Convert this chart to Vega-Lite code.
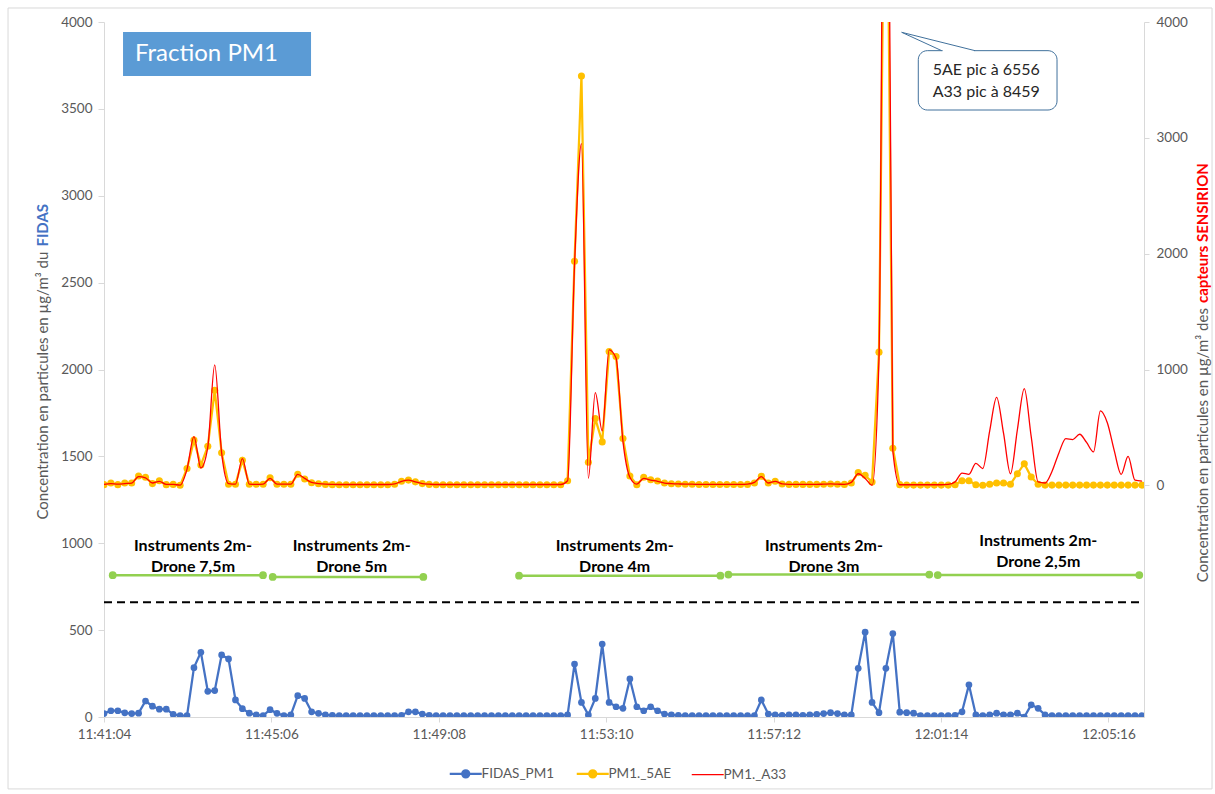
{
  "$schema": "https://vega.github.io/schema/vega-lite/v6.json",
  "width": 1040,
  "height": 695,
  "autosize": {"type": "none"},
  "padding": {"left": 104, "top": 22, "right": 71, "bottom": 77},
  "background": "white",
  "config": {
    "view": {"stroke": null},
    "font": "Lato",
    "axis": {"grid": false, "domainColor": "#d9d9d9", "tickColor": "#d9d9d9", "labelColor": "#595959", "labelFont": "Lato", "labelFontSize": 13.5},
    "legend": {"labelFont": "Lato", "labelFontSize": 13.5, "labelColor": "#595959"}
  },
  "datasets": {
    "ts": [
      {"s":0,"fidas":20,"ae5":6,"a33":8},{"s":10,"fidas":36,"ae5":20,"a33":15},{"s":20,"fidas":36,"ae5":6,"a33":10},{"s":30,"fidas":24,"ae5":20,"a33":15},{"s":40,"fidas":20,"ae5":20,"a33":20},
      {"s":50,"fidas":22,"ae5":80,"a33":75},{"s":60,"fidas":92,"ae5":70,"a33":65},{"s":70,"fidas":62,"ae5":15,"a33":20},{"s":80,"fidas":45,"ae5":40,"a33":35},{"s":90,"fidas":45,"ae5":6,"a33":8},
      {"s":100,"fidas":15,"ae5":8,"a33":8},{"s":110,"fidas":8,"ae5":0,"a33":2},{"s":120,"fidas":8,"ae5":145,"a33":140},{"s":130,"fidas":284,"ae5":390,"a33":420},{"s":140,"fidas":372,"ae5":175,"a33":150},
      {"s":150,"fidas":148,"ae5":337,"a33":330},{"s":160,"fidas":152,"ae5":820,"a33":1040},{"s":170,"fidas":357,"ae5":282,"a33":280},{"s":180,"fidas":334,"ae5":10,"a33":15},{"s":190,"fidas":98,"ae5":10,"a33":10},
      {"s":200,"fidas":48,"ae5":216,"a33":230},{"s":210,"fidas":22,"ae5":9,"a33":10},{"s":220,"fidas":12,"ae5":9,"a33":8},{"s":230,"fidas":8,"ae5":9,"a33":10},{"s":240,"fidas":42,"ae5":66,"a33":60},
      {"s":250,"fidas":21,"ae5":9,"a33":10},{"s":260,"fidas":8,"ae5":9,"a33":10},{"s":270,"fidas":12,"ae5":9,"a33":10},{"s":280,"fidas":123,"ae5":95,"a33":95},{"s":290,"fidas":107,"ae5":55,"a33":60},
      {"s":300,"fidas":30,"ae5":23,"a33":25},{"s":310,"fidas":21,"ae5":14,"a33":15},{"s":320,"fidas":12,"ae5":8,"a33":10},{"s":330,"fidas":10,"ae5":6,"a33":8},{"s":340,"fidas":8,"ae5":5,"a33":7},
      {"s":350,"fidas":8,"ae5":5,"a33":7},{"s":360,"fidas":8,"ae5":5,"a33":7},{"s":370,"fidas":8,"ae5":5,"a33":7},{"s":380,"fidas":8,"ae5":5,"a33":7},{"s":390,"fidas":8,"ae5":5,"a33":7},
      {"s":400,"fidas":8,"ae5":5,"a33":7},{"s":410,"fidas":8,"ae5":5,"a33":7},{"s":420,"fidas":8,"ae5":10,"a33":12},{"s":430,"fidas":10,"ae5":35,"a33":35},{"s":440,"fidas":30,"ae5":45,"a33":45},
      {"s":450,"fidas":30,"ae5":30,"a33":30},{"s":460,"fidas":17,"ae5":15,"a33":15},{"s":470,"fidas":10,"ae5":8,"a33":10},{"s":480,"fidas":8,"ae5":5,"a33":7},{"s":490,"fidas":8,"ae5":5,"a33":7},
      {"s":500,"fidas":8,"ae5":5,"a33":7},{"s":510,"fidas":8,"ae5":5,"a33":7},{"s":520,"fidas":8,"ae5":5,"a33":7},{"s":530,"fidas":8,"ae5":5,"a33":7},{"s":540,"fidas":8,"ae5":5,"a33":7},
      {"s":550,"fidas":8,"ae5":5,"a33":7},{"s":560,"fidas":8,"ae5":5,"a33":7},{"s":570,"fidas":8,"ae5":5,"a33":7},{"s":580,"fidas":8,"ae5":5,"a33":7},{"s":590,"fidas":8,"ae5":5,"a33":7},
      {"s":600,"fidas":8,"ae5":5,"a33":7},{"s":610,"fidas":8,"ae5":5,"a33":7},{"s":620,"fidas":8,"ae5":5,"a33":7},{"s":630,"fidas":8,"ae5":5,"a33":7},{"s":640,"fidas":8,"ae5":5,"a33":7},
      {"s":650,"fidas":8,"ae5":5,"a33":7},{"s":660,"fidas":8,"ae5":5,"a33":7},{"s":670,"fidas":12,"ae5":40,"a33":40},{"s":680,"fidas":305,"ae5":1935,"a33":1900},{"s":690,"fidas":84,"ae5":3533,"a33":2950},
      {"s":700,"fidas":12,"ae5":200,"a33":60},{"s":710,"fidas":107,"ae5":576,"a33":800},{"s":720,"fidas":420,"ae5":375,"a33":470},{"s":730,"fidas":84,"ae5":1155,"a33":1170},{"s":740,"fidas":59,"ae5":1112,"a33":1100},
      {"s":750,"fidas":50,"ae5":405,"a33":380},{"s":760,"fidas":219,"ae5":80,"a33":70},{"s":770,"fidas":59,"ae5":5,"a33":10},{"s":780,"fidas":36,"ae5":70,"a33":60},{"s":790,"fidas":59,"ae5":48,"a33":45},
      {"s":800,"fidas":36,"ae5":37,"a33":35},{"s":810,"fidas":17,"ae5":20,"a33":20},{"s":820,"fidas":12,"ae5":14,"a33":15},{"s":830,"fidas":10,"ae5":12,"a33":12},{"s":840,"fidas":8,"ae5":10,"a33":10},
      {"s":850,"fidas":8,"ae5":10,"a33":10},{"s":860,"fidas":8,"ae5":7,"a33":8},{"s":870,"fidas":8,"ae5":7,"a33":8},{"s":880,"fidas":8,"ae5":7,"a33":8},{"s":890,"fidas":8,"ae5":7,"a33":8},
      {"s":900,"fidas":8,"ae5":7,"a33":8},{"s":910,"fidas":8,"ae5":7,"a33":8},{"s":920,"fidas":8,"ae5":7,"a33":8},{"s":930,"fidas":8,"ae5":8,"a33":10},{"s":940,"fidas":8,"ae5":20,"a33":25},
      {"s":950,"fidas":98,"ae5":78,"a33":75},{"s":960,"fidas":17,"ae5":20,"a33":20},{"s":970,"fidas":12,"ae5":35,"a33":35},{"s":980,"fidas":10,"ae5":12,"a33":12},{"s":990,"fidas":12,"ae5":8,"a33":8},
      {"s":1000,"fidas":12,"ae5":8,"a33":8},{"s":1010,"fidas":10,"ae5":8,"a33":8},{"s":1020,"fidas":12,"ae5":8,"a33":8},{"s":1030,"fidas":15,"ae5":8,"a33":8},{"s":1040,"fidas":20,"ae5":10,"a33":10},
      {"s":1050,"fidas":25,"ae5":12,"a33":12},{"s":1060,"fidas":20,"ae5":10,"a33":10},{"s":1070,"fidas":12,"ae5":8,"a33":8},{"s":1080,"fidas":12,"ae5":20,"a33":25},{"s":1090,"fidas":280,"ae5":110,"a33":100},
      {"s":1100,"fidas":488,"ae5":86,"a33":60},{"s":1110,"fidas":84,"ae5":29,"a33":0},{"s":1120,"fidas":25,"ae5":1150,"a33":1100},{"s":1130,"fidas":280,"ae5":6556,"a33":8459},{"s":1140,"fidas":480,"ae5":320,"a33":300},
      {"s":1150,"fidas":28,"ae5":6,"a33":5},{"s":1160,"fidas":25,"ae5":2,"a33":5},{"s":1170,"fidas":22,"ae5":2,"a33":5},{"s":1180,"fidas":8,"ae5":2,"a33":5},{"s":1190,"fidas":8,"ae5":2,"a33":5},
      {"s":1200,"fidas":8,"ae5":2,"a33":5},{"s":1210,"fidas":8,"ae5":2,"a33":5},{"s":1220,"fidas":8,"ae5":2,"a33":8},{"s":1230,"fidas":10,"ae5":5,"a33":30},{"s":1240,"fidas":30,"ae5":40,"a33":106},
      {"s":1250,"fidas":185,"ae5":40,"a33":95},{"s":1260,"fidas":12,"ae5":5,"a33":190},{"s":1270,"fidas":8,"ae5":0,"a33":145},{"s":1280,"fidas":12,"ae5":10,"a33":470},{"s":1290,"fidas":22,"ae5":20,"a33":760},
      {"s":1300,"fidas":12,"ae5":20,"a33":450},{"s":1310,"fidas":12,"ae5":10,"a33":100},{"s":1320,"fidas":22,"ae5":100,"a33":480},{"s":1330,"fidas":0,"ae5":187,"a33":835},{"s":1340,"fidas":70,"ae5":72,"a33":420},
      {"s":1350,"fidas":50,"ae5":10,"a33":29},{"s":1360,"fidas":12,"ae5":2,"a33":20},{"s":1370,"fidas":8,"ae5":2,"a33":120},{"s":1380,"fidas":8,"ae5":2,"a33":280},{"s":1390,"fidas":8,"ae5":2,"a33":403},
      {"s":1400,"fidas":8,"ae5":2,"a33":395},{"s":1410,"fidas":8,"ae5":2,"a33":441},{"s":1420,"fidas":8,"ae5":2,"a33":370},{"s":1430,"fidas":8,"ae5":2,"a33":288},{"s":1440,"fidas":8,"ae5":2,"a33":642},
      {"s":1450,"fidas":8,"ae5":2,"a33":540},{"s":1460,"fidas":8,"ae5":2,"a33":300},{"s":1470,"fidas":8,"ae5":2,"a33":95},{"s":1480,"fidas":8,"ae5":2,"a33":250},{"s":1490,"fidas":8,"ae5":2,"a33":45},
      {"s":1500,"fidas":8,"ae5":2,"a33":37}
    ],
    "green": [
      {"seg":1,"s":12.6,"v":816},{"seg":1,"s":229.8,"v":816},
      {"seg":2,"s":243.8,"v":806},{"seg":2,"s":461.5,"v":806},
      {"seg":3,"s":599.8,"v":813},{"seg":3,"s":890.8,"v":813},
      {"seg":4,"s":902.4,"v":820},{"seg":4,"s":1192.7,"v":820},
      {"seg":5,"s":1204.9,"v":817},{"seg":5,"s":1496.2,"v":817}
    ],
    "labels": [
      {"s":128.6,"v":985,"t":"Instruments 2m-\nDrone 7,5m"},
      {"s":358,"v":985,"t":"Instruments 2m-\nDrone 5m"},
      {"s":738,"v":985,"t":"Instruments 2m-\nDrone 4m"},
      {"s":1040.5,"v":985,"t":"Instruments 2m-\nDrone 3m"},
      {"s":1350.2,"v":1013,"t":"Instruments 2m-\nDrone 2,5m"}
    ]
  },
  "encoding": {
    "x": {
      "field": "s", "type": "quantitative",
      "scale": {"domain": [0, 1503], "nice": false, "zero": false},
      "axis": {
        "title": null,
        "values": [0, 241.92, 483.84, 725.76, 967.68, 1209.6, 1451.52],
        "labelExpr": "timeFormat(datetime(2020, 0, 1, 11, 41, 4 + round(datum.value)), '%H:%M:%S')",
        "tickSize": 5, "labelPadding": 5, "labelFlush": false, "labelOverlap": false, "labelBound": false
      }
    }
  },
  "layer": [
    {
      "layer": [
        {
          "data": {"values": [{"s": -138.7, "s2": 1601.3, "v": 4080.6, "v2": -414}]},
          "mark": {"type": "rect", "fillOpacity": 0, "stroke": "#d9d9d9", "strokeWidth": 1},
          "encoding": {
            "x2": {"field": "s2"},
            "y": {"field": "v", "type": "quantitative", "scale": {"domain": [0, 4000], "nice": false, "zero": false}, "axis": {"orient": "left", "title": null, "format": "d", "values": [0, 500, 1000, 1500, 2000, 2500, 3000, 3500, 4000], "tickSize": 6, "labelPadding": 6, "labelOverlap": false}},
            "y2": {"field": "v2"}
          }
        },
        {
          "data": {"values": [{"s": 27.5, "s2": 299.2, "v": 3942, "v2": 3689}]},
          "mark": {"type": "rect", "fill": "#5b9bd5"},
          "encoding": {
            "x2": {"field": "s2"},
            "y": {"field": "v", "type": "quantitative", "scale": {"domain": [0, 4000], "nice": false, "zero": false}, "axis": {"orient": "left", "title": null, "format": "d", "values": [0, 500, 1000, 1500, 2000, 2500, 3000, 3500, 4000], "tickSize": 6, "labelPadding": 6, "labelOverlap": false}},
            "y2": {"field": "v2"}
          }
        },
        {
          "data": {"values": [{"s": 44.8, "v": 3816, "t": "Fraction PM1"}]},
          "mark": {"type": "text", "align": "left", "baseline": "middle", "font": "Lato", "fontSize": 24, "color": "white"},
          "encoding": {
            "y": {"field": "v", "type": "quantitative", "scale": {"domain": [0, 4000], "nice": false, "zero": false}, "axis": {"orient": "left", "title": null, "format": "d", "values": [0, 500, 1000, 1500, 2000, 2500, 3000, 3500, 4000], "tickSize": 6, "labelPadding": 6, "labelOverlap": false}},
            "text": {"field": "t"}
          }
        },
        {
          "data": {"values": [{"s": 0, "s2": 1503, "v": 660}]},
          "mark": {"type": "rule", "color": "black", "strokeWidth": 2, "strokeDash": [8, 5]},
          "encoding": {
            "x2": {"field": "s2"},
            "y": {"field": "v", "type": "quantitative", "scale": {"domain": [0, 4000], "nice": false, "zero": false}, "axis": {"orient": "left", "title": null, "format": "d", "values": [0, 500, 1000, 1500, 2000, 2500, 3000, 3500, 4000], "tickSize": 6, "labelPadding": 6, "labelOverlap": false}}
          }
        },
        {
          "data": {"name": "green"},
          "mark": {"type": "line", "color": "#92d050", "strokeWidth": 2.5},
          "encoding": {
            "y": {"field": "v", "type": "quantitative", "scale": {"domain": [0, 4000], "nice": false, "zero": false}, "axis": {"orient": "left", "title": null, "format": "d", "values": [0, 500, 1000, 1500, 2000, 2500, 3000, 3500, 4000], "tickSize": 6, "labelPadding": 6, "labelOverlap": false}},
            "detail": {"field": "seg"}
          }
        },
        {
          "data": {"name": "green"},
          "mark": {"type": "point", "filled": true, "color": "#92d050", "size": 60, "opacity": 1},
          "encoding": {
            "y": {"field": "v", "type": "quantitative", "scale": {"domain": [0, 4000], "nice": false, "zero": false}, "axis": {"orient": "left", "title": null, "format": "d", "values": [0, 500, 1000, 1500, 2000, 2500, 3000, 3500, 4000], "tickSize": 6, "labelPadding": 6, "labelOverlap": false}}
          }
        },
        {
          "data": {"name": "labels"},
          "mark": {"type": "text", "align": "center", "baseline": "middle", "lineBreak": "\n", "lineHeight": 21, "font": "Lato", "fontSize": 16, "fontWeight": "bold", "color": "#000000"},
          "encoding": {
            "y": {"field": "v", "type": "quantitative", "scale": {"domain": [0, 4000], "nice": false, "zero": false}, "axis": {"orient": "left", "title": null, "format": "d", "values": [0, 500, 1000, 1500, 2000, 2500, 3000, 3500, 4000], "tickSize": 6, "labelPadding": 6, "labelOverlap": false}},
            "text": {"field": "t"}
          }
        },
        {
          "data": {"name": "ts"},
          "mark": {"type": "line", "strokeWidth": 2.25, "clip": true},
          "encoding": {
            "y": {"field": "fidas", "type": "quantitative", "scale": {"domain": [0, 4000], "nice": false, "zero": false}, "axis": {"orient": "left", "title": null, "format": "d", "values": [0, 500, 1000, 1500, 2000, 2500, 3000, 3500, 4000], "tickSize": 6, "labelPadding": 6, "labelOverlap": false}},
            "color": {
              "datum": "FIDAS_PM1", "type": "nominal",
              "scale": {"domain": ["FIDAS_PM1", "PM1._5AE", "PM1._A33"], "range": ["#4472c4", "#ffc000", "#ff0000"]},
              "legend": {
                "title": null, "orient": "none", "legendX": 355, "legendY": 745, "direction": "horizontal", "padding": 0,
                "symbolType": "M-1,0H1M0.22,0A0.22,0.22,0,1,1,-0.22,0A0.22,0.22,0,1,1,0.22,0",
                "symbolSize": 1024, "symbolStrokeWidth": 2.25, "symbolOpacity": 1,
                "labelOffset": 9, "columnPadding": 17, "labelFontSize": 13.5, "labelColor": "#595959",
                "encode": {
                  "symbols": {
                    "update": {
                      "shape": {"signal": "datum.value === 'PM1._A33' ? 'M-1,0H1' : 'M-1,0H1M0.22,0A0.22,0.22,0,1,1,-0.22,0A0.22,0.22,0,1,1,0.22,0'"},
                      "strokeWidth": {"signal": "datum.value === 'PM1._A33' ? 1.3 : 2.25"},
                      "stroke": {"signal": "scale('color', datum.value)"},
                      "fill": {"signal": "datum.value === 'PM1._A33' ? 'transparent' : scale('color', datum.value)"},
                      "size": {"value": 1024},
                      "opacity": {"value": 1}
                    }
                  }
                }
              }
            }
          }
        },
        {
          "data": {"name": "ts"},
          "mark": {"type": "point", "filled": true, "size": 45, "opacity": 1, "clip": true},
          "encoding": {
            "y": {"field": "fidas", "type": "quantitative", "scale": {"domain": [0, 4000], "nice": false, "zero": false}, "axis": {"orient": "left", "title": null, "format": "d", "values": [0, 500, 1000, 1500, 2000, 2500, 3000, 3500, 4000], "tickSize": 6, "labelPadding": 6, "labelOverlap": false}},
            "color": {"datum": "FIDAS_PM1", "type": "nominal", "legend": null}
          }
        },
        {
          "data": {"values": [{"s": 1176.8, "s2": 1377.3, "v": 3835, "v2": 3493.5}]},
          "mark": {"type": "rect", "fill": "white", "stroke": "#41719c", "strokeWidth": 1, "cornerRadius": 9},
          "encoding": {
            "x2": {"field": "s2"},
            "y": {"field": "v", "type": "quantitative", "scale": {"domain": [0, 4000], "nice": false, "zero": false}, "axis": {"orient": "left", "title": null, "format": "d", "values": [0, 500, 1000, 1500, 2000, 2500, 3000, 3500, 4000], "tickSize": 6, "labelPadding": 6, "labelOverlap": false}},
            "y2": {"field": "v2"}
          }
        },
        {
          "data": {"values": [{"s": 1212, "v": 3835, "o": 1}, {"s": 1257.4, "v": 3835, "o": 2}]},
          "mark": {"type": "line", "color": "white", "strokeWidth": 3},
          "encoding": {
            "y": {"field": "v", "type": "quantitative", "scale": {"domain": [0, 4000], "nice": false, "zero": false}, "axis": {"orient": "left", "title": null, "format": "d", "values": [0, 500, 1000, 1500, 2000, 2500, 3000, 3500, 4000], "tickSize": 6, "labelPadding": 6, "labelOverlap": false}},
            "order": {"field": "o"}
          }
        },
        {
          "data": {"values": [{"s": 1210.6, "v": 3835, "o": 1}, {"s": 1152.8, "v": 3940.7, "o": 2}, {"s": 1258.8, "v": 3835, "o": 3}]},
          "mark": {"type": "line", "color": "#41719c", "strokeWidth": 1},
          "encoding": {
            "y": {"field": "v", "type": "quantitative", "scale": {"domain": [0, 4000], "nice": false, "zero": false}, "axis": {"orient": "left", "title": null, "format": "d", "values": [0, 500, 1000, 1500, 2000, 2500, 3000, 3500, 4000], "tickSize": 6, "labelPadding": 6, "labelOverlap": false}},
            "order": {"field": "o"}
          }
        },
        {
          "data": {"values": [{"s": 1197.6, "v": 3723.7, "t": "5AE pic à 6556"}, {"s": 1197.6, "v": 3598.8, "t": "A33 pic à 8459"}]},
          "mark": {"type": "text", "align": "left", "baseline": "middle", "font": "Lato", "fontSize": 16, "color": "#262626"},
          "encoding": {
            "y": {"field": "v", "type": "quantitative", "scale": {"domain": [0, 4000], "nice": false, "zero": false}, "axis": {"orient": "left", "title": null, "format": "d", "values": [0, 500, 1000, 1500, 2000, 2500, 3000, 3500, 4000], "tickSize": 6, "labelPadding": 6, "labelOverlap": false}},
            "text": {"field": "t"}
          }
        },
        {
          "data": {"values": [{"s": -88.2, "v": 2690, "t": "Concentration en particules en µg/m³ du"}]},
          "mark": {"type": "text", "angle": 270, "align": "right", "baseline": "middle", "dx": -2, "font": "Lato", "fontSize": 15, "color": "#595959"},
          "encoding": {
            "y": {"field": "v", "type": "quantitative", "scale": {"domain": [0, 4000], "nice": false, "zero": false}, "axis": {"orient": "left", "title": null, "format": "d", "values": [0, 500, 1000, 1500, 2000, 2500, 3000, 3500, 4000], "tickSize": 6, "labelPadding": 6, "labelOverlap": false}},
            "text": {"field": "t"}
          }
        },
        {
          "data": {"values": [{"s": -88.2, "v": 2690, "t": "FIDAS"}]},
          "mark": {"type": "text", "angle": 270, "align": "left", "baseline": "middle", "dx": 3, "font": "Lato", "fontSize": 15, "fontWeight": "bold", "color": "#4472c4"},
          "encoding": {
            "y": {"field": "v", "type": "quantitative", "scale": {"domain": [0, 4000], "nice": false, "zero": false}, "axis": {"orient": "left", "title": null, "format": "d", "values": [0, 500, 1000, 1500, 2000, 2500, 3000, 3500, 4000], "tickSize": 6, "labelPadding": 6, "labelOverlap": false}},
            "text": {"field": "t"}
          }
        },
        {
          "data": {"values": [{"s": 1588.3, "v": 2365, "t": "Concentration en particules en µg/m³ des"}]},
          "mark": {"type": "text", "angle": 270, "align": "right", "baseline": "middle", "dx": -2, "font": "Lato", "fontSize": 15, "color": "#595959"},
          "encoding": {
            "y": {"field": "v", "type": "quantitative", "scale": {"domain": [0, 4000], "nice": false, "zero": false}, "axis": {"orient": "left", "title": null, "format": "d", "values": [0, 500, 1000, 1500, 2000, 2500, 3000, 3500, 4000], "tickSize": 6, "labelPadding": 6, "labelOverlap": false}},
            "text": {"field": "t"}
          }
        },
        {
          "data": {"values": [{"s": 1588.3, "v": 2365, "t": "capteurs SENSIRION"}]},
          "mark": {"type": "text", "angle": 270, "align": "left", "baseline": "middle", "dx": 3, "font": "Lato", "fontSize": 15, "fontWeight": "bold", "color": "#ff0000"},
          "encoding": {
            "y": {"field": "v", "type": "quantitative", "scale": {"domain": [0, 4000], "nice": false, "zero": false}, "axis": {"orient": "left", "title": null, "format": "d", "values": [0, 500, 1000, 1500, 2000, 2500, 3000, 3500, 4000], "tickSize": 6, "labelPadding": 6, "labelOverlap": false}},
            "text": {"field": "t"}
          }
        }
      ]
    },
    {
      "layer": [
        {
          "data": {"name": "ts"},
          "mark": {"type": "line", "strokeWidth": 2.25, "clip": true},
          "encoding": {
            "y": {"field": "ae5", "type": "quantitative", "scale": {"domain": [-2000, 4000], "nice": false, "zero": false}, "axis": {"orient": "right", "title": null, "format": "d", "values": [0, 1000, 2000, 3000, 4000], "tickSize": 5, "labelPadding": 7, "labelOverlap": false}},
            "color": {"datum": "PM1._5AE", "type": "nominal", "legend": null}
          }
        },
        {
          "data": {"name": "ts"},
          "mark": {"type": "point", "filled": true, "size": 50, "opacity": 1, "clip": true},
          "encoding": {
            "y": {"field": "ae5", "type": "quantitative", "scale": {"domain": [-2000, 4000], "nice": false, "zero": false}, "axis": {"orient": "right", "title": null, "format": "d", "values": [0, 1000, 2000, 3000, 4000], "tickSize": 5, "labelPadding": 7, "labelOverlap": false}},
            "color": {"datum": "PM1._5AE", "type": "nominal", "legend": null}
          }
        },
        {
          "data": {"name": "ts"},
          "mark": {"type": "line", "strokeWidth": 1.3, "interpolate": "monotone", "clip": true},
          "encoding": {
            "y": {"field": "a33", "type": "quantitative", "scale": {"domain": [-2000, 4000], "nice": false, "zero": false}, "axis": {"orient": "right", "title": null, "format": "d", "values": [0, 1000, 2000, 3000, 4000], "tickSize": 5, "labelPadding": 7, "labelOverlap": false}},
            "color": {"datum": "PM1._A33", "type": "nominal", "legend": null}
          }
        }
      ]
    }
  ],
  "resolve": {"scale": {"y": "independent"}}
}
